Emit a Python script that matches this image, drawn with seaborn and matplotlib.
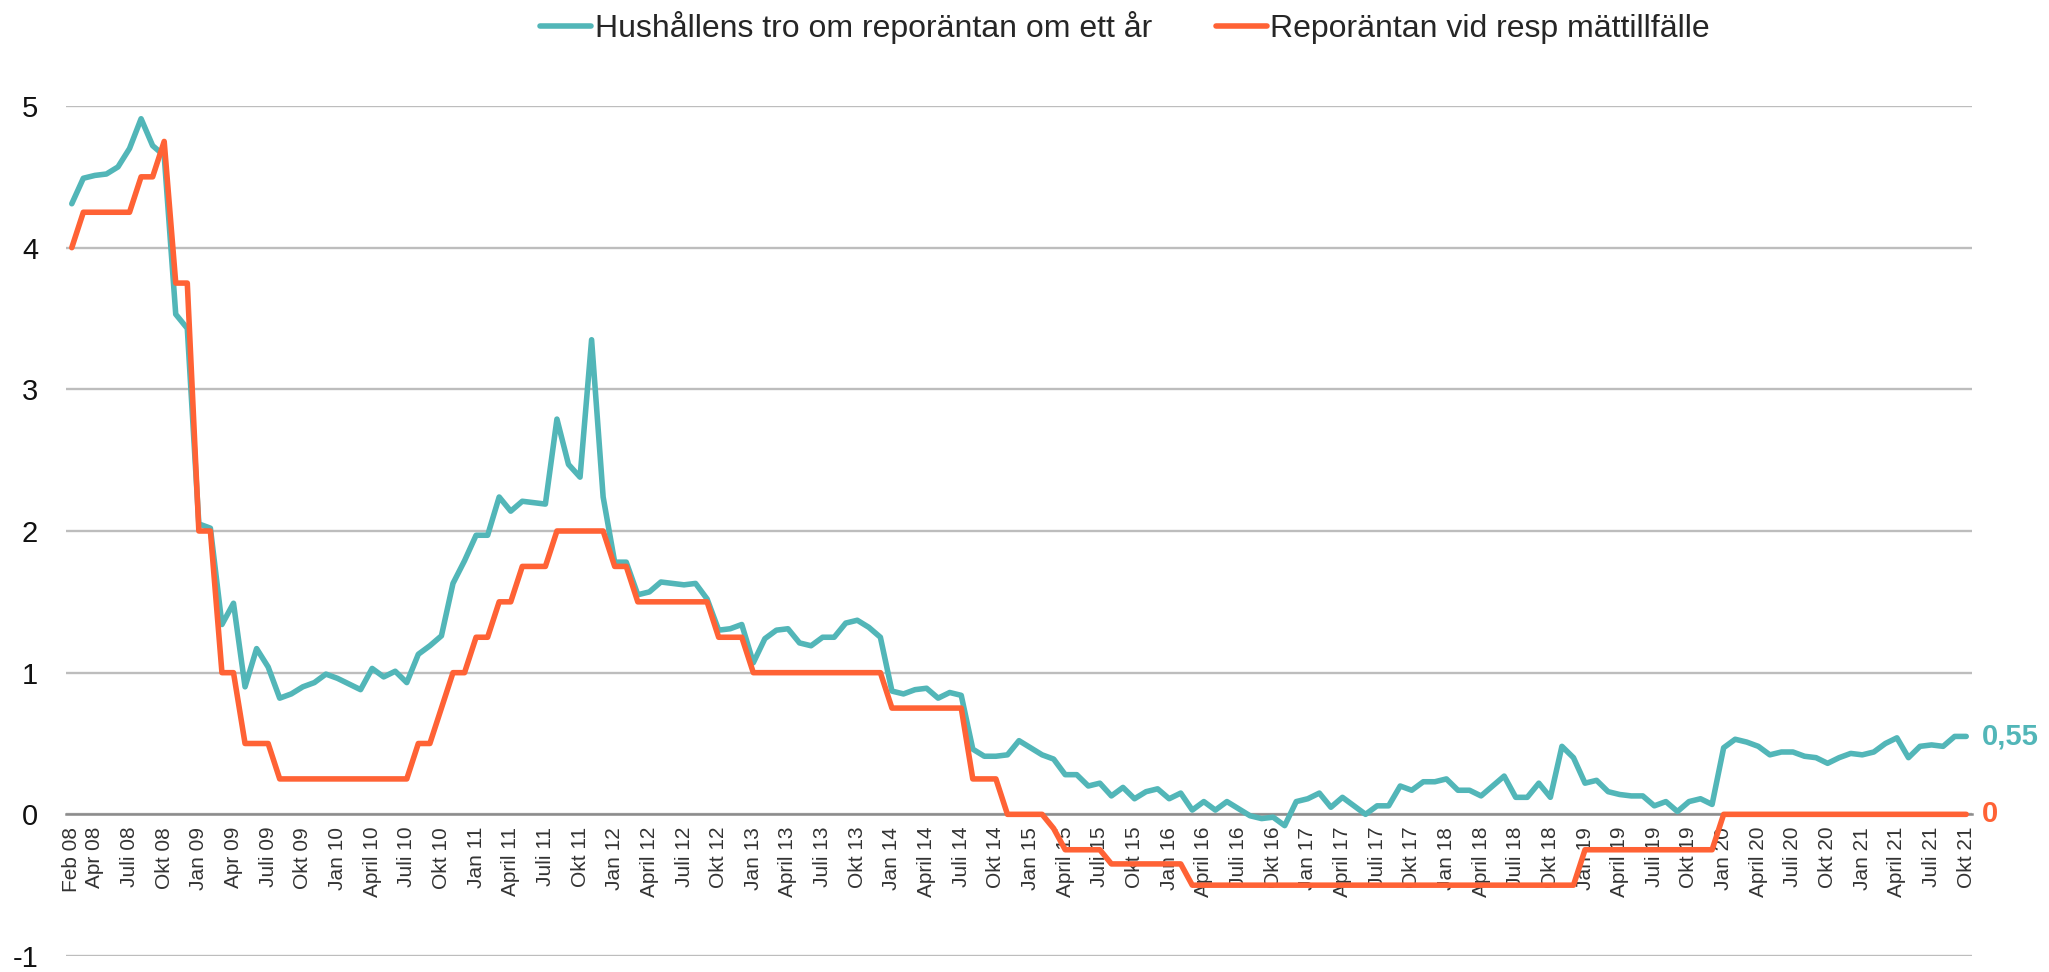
import numpy as np
import pandas as pd
import matplotlib
matplotlib.use("Agg")
from matplotlib import pyplot as plt
import seaborn as sns

# Hushållens förväntningar, månadsvis feb 2008 - okt 2021
expectations = [
    4.31, 4.49, 4.51, 4.52, 4.57, 4.70, 4.91, 4.72, 4.65, 3.53, 3.43,
    2.05, 2.02, 1.34, 1.49, 0.90, 1.17, 1.04, 0.82, 0.85, 0.90, 0.93, 0.99,
    0.96, 0.92, 0.88, 1.03, 0.97, 1.01, 0.93, 1.13, 1.19, 1.26, 1.63, 1.79,
    1.97, 1.97, 2.24, 2.14, 2.21, 2.20, 2.19, 2.79, 2.47, 2.38, 3.35, 2.24,
    1.78, 1.78, 1.55, 1.57, 1.64, 1.63, 1.62, 1.63, 1.52, 1.30, 1.31, 1.34,
    1.07, 1.24, 1.30, 1.31, 1.21, 1.19, 1.25, 1.25, 1.35, 1.37, 1.32, 1.25,
    0.87, 0.85, 0.88, 0.89, 0.82, 0.86, 0.84, 0.46, 0.41, 0.41, 0.42, 0.52,
    0.47, 0.42, 0.39, 0.28, 0.28, 0.20, 0.22, 0.13, 0.19, 0.11, 0.16, 0.18,
    0.11, 0.15, 0.03, 0.09, 0.03, 0.09, 0.04, -0.01, -0.03, -0.02, -0.08, 0.09,
    0.11, 0.15, 0.05, 0.12, 0.06, 0.00, 0.06, 0.06, 0.20, 0.17, 0.23, 0.23,
    0.25, 0.17, 0.17, 0.13, 0.20, 0.27, 0.12, 0.12, 0.22, 0.12, 0.48, 0.40,
    0.22, 0.24, 0.16, 0.14, 0.13, 0.13, 0.06, 0.09, 0.02, 0.09, 0.11, 0.07,
    0.47, 0.53, 0.51, 0.48, 0.42, 0.44, 0.44, 0.41, 0.40, 0.36, 0.40, 0.43,
    0.42, 0.44, 0.50, 0.54, 0.40, 0.48, 0.49, 0.48, 0.55, 0.55,
]

# Reporäntan vid respektive mättillfälle
repo_rate = [
    4.00, 4.25, 4.25, 4.25, 4.25, 4.25, 4.50, 4.50, 4.75, 3.75, 3.75,
    2.00, 2.00, 1.00, 1.00, 0.50, 0.50, 0.50, 0.25, 0.25, 0.25, 0.25, 0.25,
    0.25, 0.25, 0.25, 0.25, 0.25, 0.25, 0.25, 0.50, 0.50, 0.75, 1.00, 1.00,
    1.25, 1.25, 1.50, 1.50, 1.75, 1.75, 1.75, 2.00, 2.00, 2.00, 2.00, 2.00,
    1.75, 1.75, 1.50, 1.50, 1.50, 1.50, 1.50, 1.50, 1.50, 1.25, 1.25, 1.25,
    1.00, 1.00, 1.00, 1.00, 1.00, 1.00, 1.00, 1.00, 1.00, 1.00, 1.00, 1.00,
    0.75, 0.75, 0.75, 0.75, 0.75, 0.75, 0.75, 0.25, 0.25, 0.25, 0.00, 0.00,
    0.00, 0.00, -0.10, -0.25, -0.25, -0.25, -0.25, -0.35, -0.35, -0.35, -0.35, -0.35,
    -0.35, -0.35, -0.50, -0.50, -0.50, -0.50, -0.50, -0.50, -0.50, -0.50, -0.50, -0.50,
    -0.50, -0.50, -0.50, -0.50, -0.50, -0.50, -0.50, -0.50, -0.50, -0.50, -0.50, -0.50,
    -0.50, -0.50, -0.50, -0.50, -0.50, -0.50, -0.50, -0.50, -0.50, -0.50, -0.50, -0.50,
    -0.25, -0.25, -0.25, -0.25, -0.25, -0.25, -0.25, -0.25, -0.25, -0.25, -0.25, -0.25,
    0.00, 0.00, 0.00, 0.00, 0.00, 0.00, 0.00, 0.00, 0.00, 0.00, 0.00, 0.00,
    0.00, 0.00, 0.00, 0.00, 0.00, 0.00, 0.00, 0.00, 0.00, 0.00,
]

tick_labels = [
    "Feb 08", "Apr 08", "Juli 08", "Okt 08",
    "Jan 09", "Apr 09", "Juli 09", "Okt 09",
    "Jan 10", "April 10", "Juli 10", "Okt 10",
    "Jan 11", "April 11", "Juli 11", "Okt 11",
    "Jan 12", "April 12", "Juli 12", "Okt 12",
    "Jan 13", "April 13", "Juli 13", "Okt 13",
    "Jan 14", "April 14", "Juli 14", "Okt 14",
    "Jan 15", "April 15", "Juli 15", "Okt 15",
    "Jan 16", "April 16", "Juli 16", "Okt 16",
    "Jan 17", "April 17", "Juli 17", "Okt 17",
    "Jan 18", "April 18", "Juli 18", "Okt 18",
    "Jan 19", "April 19", "Juli 19", "Okt 19",
    "Jan 20", "April 20", "Juli 20", "Okt 20",
    "Jan 21", "April 21", "Juli 21", "Okt 21",
]

series_names = ["Hushållens tro om reporäntan om ett år", "Reporäntan vid resp mättillfälle"]
colors = ["#52B6B8", "#FF6235"]

month = np.arange(len(expectations))
df = pd.DataFrame({
    "month": np.concatenate([month, month]),
    "value": expectations + repo_rate,
    "serie": [series_names[0]] * len(expectations) + [series_names[1]] * len(repo_rate),
})

# monthly labels: Feb and Apr 08, then every quarter
dates = pd.date_range("2008-02-01", periods=len(expectations), freq="MS")
tick_pos = [i for i, d in enumerate(dates) if i == 0 or d.month in (1, 4, 7, 10)]

sns.set_theme(style="white")
plt.rcParams["font.family"] = ["Liberation Sans", "DejaVu Sans"]
plt.rcParams["axes.unicode_minus"] = False

fig = plt.figure(figsize=(20.49, 9.72), dpi=100)
ax = fig.add_axes([66 / 2049, 16 / 972, 1906 / 2049, 850 / 972])

sns.lineplot(data=df, x="month", y="value", hue="serie", palette=colors,
             linewidth=4, ax=ax, zorder=3)

ax.set_xlim(-0.5, len(expectations) - 0.5)
ax.set_ylim(-1, 5)
ax.set_yticks(range(-1, 6))
ax.yaxis.grid(True, color="#BDBDBD", linewidth=1.7)
ax.set_axisbelow(True)

for s in ["top", "right", "left"]:
    ax.spines[s].set_visible(False)
ax.spines["bottom"].set_position(("data", 0))
ax.spines["bottom"].set_color("#8C8C8C")
ax.spines["bottom"].set_linewidth(1.8)

ax.set_xticks(tick_pos)
ax.set_xticklabels(tick_labels, rotation=90, fontsize=15, color="#333333")
ax.tick_params(axis="x", length=0, pad=9)
ax.tick_params(axis="y", length=0, pad=20, labelsize=21, labelcolor="#111111")
ax.set_xlabel("")
ax.set_ylabel("")

handles, labels = ax.get_legend_handles_labels()
for h in handles:
    h.set_linewidth(4)
ax.legend(handles, labels, loc="center", bbox_to_anchor=(0.549, 1 - 28 / 972),
          bbox_transform=fig.transFigure, ncol=2, frameon=False, fontsize=23,
          handlelength=1.6, handletextpad=0.1, columnspacing=2.0,
          labelcolor="#262626")

last = len(expectations) - 1
ax.annotate(f"{expectations[-1]:.2f}".replace(".", ","), xy=(last, expectations[-1]),
            xytext=(11, 0), textcoords="offset points", va="center",
            color=colors[0], fontsize=21, fontweight="bold")
ax.annotate(f"{repo_rate[-1]:g}", xy=(last, repo_rate[-1]),
            xytext=(11, 0), textcoords="offset points", va="center",
            color=colors[1], fontsize=21, fontweight="bold")

fig.savefig("out.png", dpi=100)
